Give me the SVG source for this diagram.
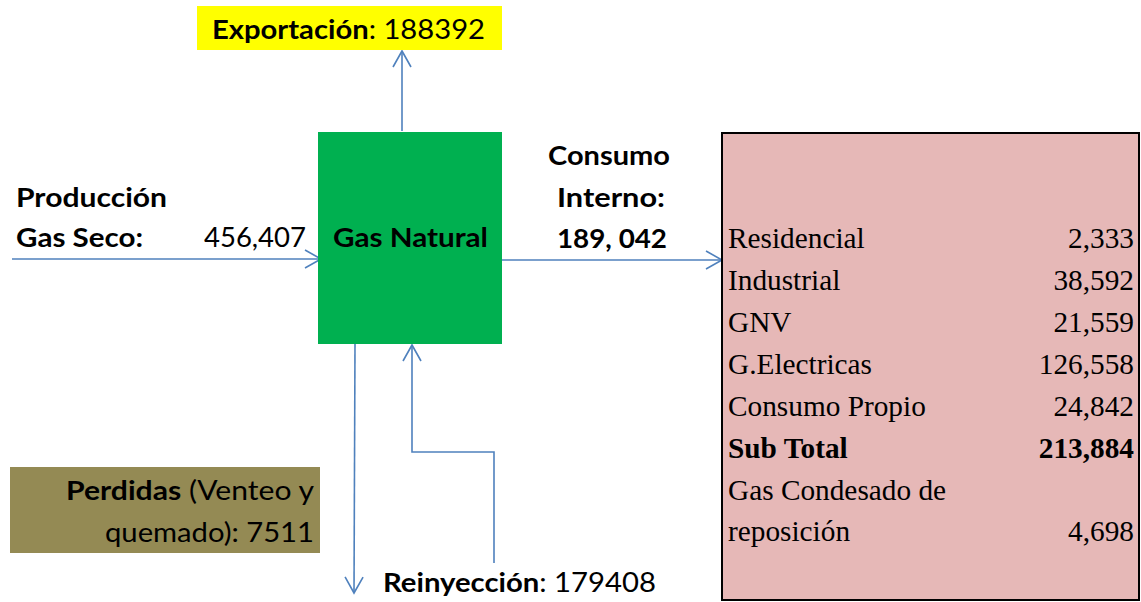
<svg xmlns="http://www.w3.org/2000/svg" width="1141" height="602" viewBox="0 0 1141 602">
<defs>
<style>
.s{font-family:Lato,"Liberation Sans",sans-serif;font-size:27px;fill:#000}
.b{font-weight:bold}
.t{font-family:"Liberation Serif","Times New Roman",serif;font-size:29.3px;fill:#000}
.r{text-anchor:end}
.c{fill:none;stroke:#4F81BD;stroke-width:1.6}
</style>
<marker id="ah" markerUnits="userSpaceOnUse" markerWidth="40" markerHeight="40" viewBox="-20 -20 40 40" refX="0" refY="0" orient="auto">
<path d="M-16,-9 L0,0 L-16,9" fill="none" stroke="#4F81BD" stroke-width="1.6"/>
</marker>
</defs>
<rect width="1141" height="602" fill="#fff"/>
<g id="connectors">
<line class="c" x1="402" y1="131" x2="402" y2="51" marker-end="url(#ah)"/>
<line class="c" x1="12" y1="259" x2="321" y2="259" marker-end="url(#ah)"/>
<line class="c" x1="502" y1="260" x2="722" y2="260" marker-end="url(#ah)"/>
<line class="c" x1="355" y1="344" x2="354" y2="593" marker-end="url(#ah)"/>
<polyline class="c" points="494,563 494,452 412,452 412,345" marker-end="url(#ah)"/>
</g>
<g id="exportacion">
<rect x="197" y="6" width="305" height="44" fill="#FFFF00"/>
<text class="s" x="212" y="39" textLength="273" lengthAdjust="spacingAndGlyphs"><tspan class="b">Exportación</tspan>: 188392</text>
</g>
<g id="produccion">
<text class="s b" x="16" y="207" textLength="151" lengthAdjust="spacingAndGlyphs">Producción</text>
<text class="s b" x="16" y="247" textLength="127" lengthAdjust="spacingAndGlyphs">Gas Seco:</text>
<text class="s" x="204" y="247" textLength="102" lengthAdjust="spacingAndGlyphs">456,407</text>
</g>
<g id="gas-natural">
<rect x="318" y="132" width="184" height="212" fill="#00B050"/>
<text class="s b" x="333" y="247" textLength="155" lengthAdjust="spacingAndGlyphs">Gas Natural</text>
</g>
<g id="consumo-interno">
<text class="s b" x="548" y="165" textLength="122" lengthAdjust="spacingAndGlyphs">Consumo</text>
<text class="s b" x="557" y="207" textLength="108" lengthAdjust="spacingAndGlyphs">Interno:</text>
<text class="s b" x="557" y="248" textLength="110" lengthAdjust="spacingAndGlyphs">189, 042</text>
</g>
<g id="tabla">
<rect x="722" y="133" width="417" height="467" fill="#E6B8B7" stroke="#000" stroke-width="2"/>
<text class="t" x="728" y="248">Residencial</text><text class="t r" x="1134" y="248">2,333</text>
<text class="t" x="728" y="290">Industrial</text><text class="t r" x="1134" y="290">38,592</text>
<text class="t" x="728" y="332">GNV</text><text class="t r" x="1134" y="332">21,559</text>
<text class="t" x="728" y="374">G.Electricas</text><text class="t r" x="1134" y="374">126,558</text>
<text class="t" x="728" y="416">Consumo Propio</text><text class="t r" x="1134" y="416">24,842</text>
<text class="t b" x="728" y="458">Sub Total</text><text class="t b r" x="1134" y="458">213,884</text>
<text class="t" x="728" y="500">Gas Condesado de</text>
<text class="t" x="728" y="541">reposición</text><text class="t r" x="1134" y="541">4,698</text>
</g>
<g id="perdidas">
<rect x="10" y="467" width="310" height="86" fill="#948A54"/>
<text class="s" x="66" y="500" textLength="248" lengthAdjust="spacingAndGlyphs"><tspan class="b">Perdidas</tspan> (Venteo y</text>
<text class="s" x="105" y="542" textLength="209" lengthAdjust="spacingAndGlyphs">quemado): 7511</text>
</g>
<g id="reinyeccion">
<text class="s" x="383" y="592" textLength="273" lengthAdjust="spacingAndGlyphs"><tspan class="b">Reinyección</tspan>: 179408</text>
</g>
</svg>
